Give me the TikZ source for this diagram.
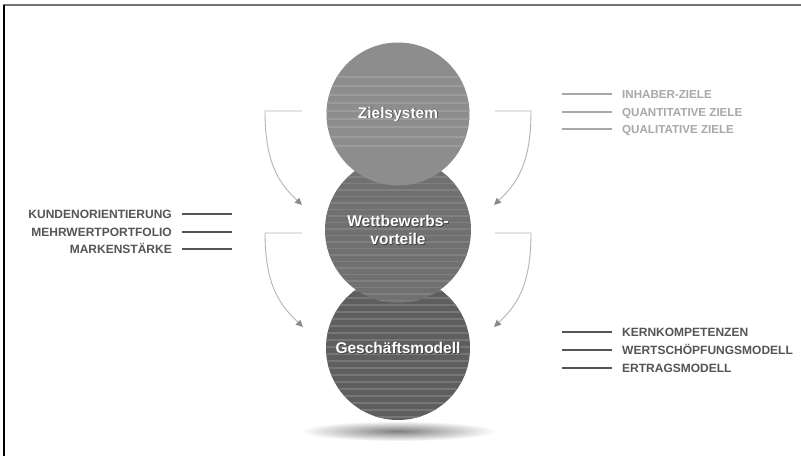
\documentclass[tikz,border=0pt]{standalone}
\usepackage{fontspec}
\setmainfont{Liberation Sans}
\usetikzlibrary{arrows.meta}
\definecolor{ctop}{HTML}{8D8D8D}
\definecolor{stop}{HTML}{9C9C9C}
\definecolor{cmid}{HTML}{707070}
\definecolor{smid}{HTML}{808080}
\definecolor{cbot}{HTML}{5E5E5E}
\definecolor{sbot}{HTML}{767676}
\definecolor{arrowgray}{HTML}{B4B4B4}
\definecolor{headgray}{HTML}{8A8A8A}
\definecolor{lightlist}{HTML}{A8A8A8}
\definecolor{darklist}{HTML}{555555}
\begin{document}
\begin{tikzpicture}[x=1pt,y=-1pt,
  ball/.style={circle,inner sep=0pt,minimum size=#1},
  balltext/.style={text=white,font=\fontsize{15.5}{18}\selectfont\bfseries,align=center,inner sep=0pt},
  ballshadow/.style={text=black!75,font=\fontsize{15.5}{18}\selectfont\bfseries,align=center,inner sep=0pt},
  conn/.style={draw=arrowgray,line width=0.9pt,-{Triangle[length=7pt,width=6.5pt,color=headgray]}},
  darkitem/.style={text=darklist,font=\fontsize{12}{14}\selectfont\bfseries,inner sep=0pt,text height=8.6pt,text depth=0pt},
  lightitem/.style={text=lightlist,font=\fontsize{11.6}{14}\selectfont\bfseries,inner sep=0pt,text height=8.3pt,text depth=0pt},
  darkline/.style={draw=darklist,line width=1.8pt},
  lightline/.style={draw=lightlist,line width=1.8pt}]
\useasboundingbox (0,0) rectangle (801,456);
\fill[white] (0,0) rectangle (801,456);
% frame
\draw[line width=1.5pt,black!55] (3,5) -- (801,5);
\draw[line width=1.2pt,black] (4,5) -- (4,456);
% shadow
\shade[inner color=black!50,outer color=white] (398,431) ellipse [x radius=98, y radius=10];
% circles, bottom first
\node[ball=144pt,fill=cbot,path picture={
  \foreach \dy in {-64,-57,...,72}
    \draw[sbot,line width=1.4pt] (path picture bounding box.center) ++(-80,\dy) -- ++(160,0);
}] (gm) at (398,348) {};
\node[ball=146pt,fill=cmid,path picture={
  \foreach \dy in {-66,-59.5,...,72}
    \draw[smid,line width=1.4pt] (path picture bounding box.center) ++(-80,\dy) -- ++(160,0);
}] (wv) at (398,230) {};
\node[ball=143pt,fill=ctop,path picture={
  \foreach \dy in {-37,-28,-19,-11,-3,5,13,23,32}
    \draw[stop,line width=1.4pt] (path picture bounding box.center) ++(-80,\dy) -- ++(160,0);
}] (zs) at (398,114) {};
% circle labels
\node[ballshadow] at ([shift={(0.9pt,-0.9pt)}]zs.center) {Zielsystem};
\node[balltext] (zst) at (zs.center) {Zielsystem};
\node[ballshadow] at ([shift={(0.9pt,-0.9pt)}]wv.center) {Wettbewerbs-\\vorteile};
\node[balltext] (wvt) at (wv.center) {Wettbewerbs-\\vorteile};
\node[ballshadow] at ([shift={(0.9pt,-0.9pt)}]gm.center) {Geschäftsmodell};
\node[balltext] (gmt) at (gm.center) {Geschäftsmodell};
% connectors
\coordinate (a1s) at (302,111); \coordinate (a1k) at (265,111); \coordinate (a1e) at (302,205);
\coordinate (a2s) at (495,111); \coordinate (a2k) at (531,111); \coordinate (a2e) at (494,205);
\coordinate (a3s) at (302,233); \coordinate (a3k) at (265,233); \coordinate (a3e) at (303,327);
\coordinate (a4s) at (495,233); \coordinate (a4k) at (531,233); \coordinate (a4e) at (494,327);
\draw[conn] (a1s) -- (a1k) .. controls (265,165) and (280,184) .. (a1e);
\draw[conn] (a2s) -- (a2k) .. controls (531,165) and (516,184) .. (a2e);
\draw[conn] (a3s) -- (a3k) .. controls (265,287) and (281,306) .. (a3e);
\draw[conn] (a4s) -- (a4k) .. controls (531,287) and (516,306) .. (a4e);
% right top list
\node[lightitem,anchor=west] (i1) at (622,94) {INHABER-ZIELE};
\node[lightitem,anchor=west] (i2) at (622,112) {QUANTITATIVE ZIELE};
\node[lightitem,anchor=west] (i3) at (622,129) {QUALITATIVE ZIELE};
\foreach \n in {i1,i2,i3}
  \draw[lightline] ([xshift=-10pt]\n.west) -- ++(-50,0);
% left list
\node[darkitem,anchor=east] (k1) at (172,214) {KUNDENORIENTIERUNG};
\node[darkitem,anchor=east] (k2) at (172,232) {MEHRWERTPORTFOLIO};
\node[darkitem,anchor=east] (k3) at (172,249) {MARKENSTÄRKE};
\foreach \n in {k1,k2,k3}
  \draw[darkline] ([xshift=10pt]\n.east) -- ++(50,0);
% right bottom list
\node[darkitem,anchor=west] (g1) at (622,332) {KERNKOMPETENZEN};
\node[darkitem,anchor=west] (g2) at (622,350) {WERTSCHÖPFUNGSMODELL};
\node[darkitem,anchor=west] (g3) at (622,368) {ERTRAGSMODELL};
\foreach \n in {g1,g2,g3}
  \draw[darkline] ([xshift=-10pt]\n.west) -- ++(-50,0);
\end{tikzpicture}
\end{document}
